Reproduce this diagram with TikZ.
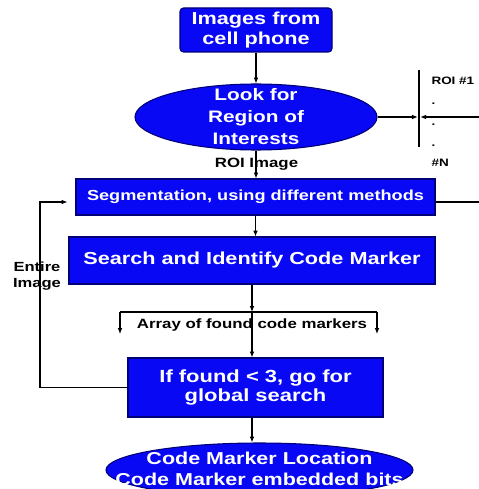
\documentclass[tikz,border=0pt]{standalone}
\usepackage{fontspec}
\setmainfont[FakeStretch=1.25]{Liberation Sans}
\usetikzlibrary{shapes.geometric,arrows.meta}

\definecolor{boxblue}{RGB}{8,8,245}
\definecolor{boxedge}{RGB}{0,0,120}

\tikzset{
  blockbox/.style={draw=boxedge, fill=boxblue, text=white, align=center, inner sep=0pt},
  ovalbox/.style={draw=boxedge, fill=boxblue, ellipse, inner sep=0pt},
  ovaltext/.style={text=white, align=center, inner sep=0pt},
  lbl/.style={align=center, inner sep=0pt},
  arr/.style={-{Latex[length=5pt,width=4pt]}}
}

\begin{document}
\begin{tikzpicture}[x=0.03cm, y=-0.03cm, line width=0.9pt]
            \useasboundingbox (0,0) rectangle (478,489);

            \node[blockbox, rounded corners=3pt, minimum width=4.56cm, minimum height=1.32cm,
                  font=\bfseries\fontsize{14.8}{17}\selectfont] (img) at (256,30) {Images from\\cell phone};
            \node[ovalbox, minimum width=7.26cm, minimum height=1.98cm] (roi) at (256,117) {};
            \node[ovaltext, font=\bfseries\fontsize{14.2}{18.8}\selectfont] (roitxt) at (256,117) {Look for\\Region of\\Interests};
            \node[blockbox, minimum width=10.77cm, minimum height=1.08cm,
                  font=\bfseries\fontsize{12.4}{15}\selectfont] (seg) at (255.5,197) {Segmentation, using different methods};
            \node[blockbox, minimum width=10.98cm, minimum height=1.41cm,
                  font=\bfseries\fontsize{14.8}{17}\selectfont] (search) at (252,260.5) {Search and Identify Code Marker};
            \node[blockbox, minimum width=7.65cm, minimum height=1.77cm,
                  font=\bfseries\fontsize{15}{17}\selectfont] (found) at (255.5,387.5) {If found < 3, go for\\global search};
            \node[ovalbox, minimum width=9.21cm, minimum height=1.62cm] (out) at (259.5,470) {};
            \node[ovaltext, font=\bfseries\fontsize{14.7}{18}\selectfont] (outtxt) at (259.5,469) {Code Marker Location\\Code Marker embedded bits};

            \node[lbl, font=\bfseries\fontsize{11.5}{13}\selectfont] (roiimg) at (256.5,164) {ROI Image};
            \node[lbl, font=\bfseries\fontsize{11.5}{13}\selectfont] (arraylbl) at (252,325) {Array of found code markers};
            \node[lbl, font=\bfseries\fontsize{11.3}{13.7}\selectfont] (entire) at (37,276) {Entire\\Image};
            \node[lbl, align=left, anchor=north west, font=\bfseries\fontsize{9.2}{17.7}\selectfont] (roilist) at (431,76) {ROI \#1\\.\\.\\.\\\#N};

            \coordinate (bartop) at (419,70);
            \coordinate (barbot) at (419,147);
            \coordinate (roibar) at (419,117);
            \coordinate (roiin) at (480,117);
            \coordinate (segout) at (480,202);
            \coordinate (loop) at (40,202);
            \coordinate (barl) at (120,312);
            \coordinate (barm) at (252,312);
            \coordinate (barr) at (377,312);

            \draw[arr] (img.south) -- (img.south |- roi.north);
            \draw (bartop) -- (barbot);
            \draw[arr, shorten >=1pt] (roi.east) -- (roibar);
            \draw[arr, shorten >=1pt] (roiin) -- (roibar);
            \draw[arr] (roi.south) -- (roi.south |- seg.north);
            \draw (seg.east |- segout) -- (segout);
            \draw[arr] (seg.south) -- (seg.south |- search.north);
            \draw[arr] (found.west) -| (loop) -- ([xshift=-0.24cm]loop -| seg.west);
            \draw[arr] (search.south -| barm) -- (barm);
            \draw (barl) -- (barr);
            \draw[arr] (barl) -- ++(0,22);
            \draw[arr] (barr) -- ++(0,22);
            \draw[arr] (barm) -- (barm |- found.north);
            \draw[arr] (found.south -| barm) -- (barm |- out.north);
        \end{tikzpicture}
\end{document}
